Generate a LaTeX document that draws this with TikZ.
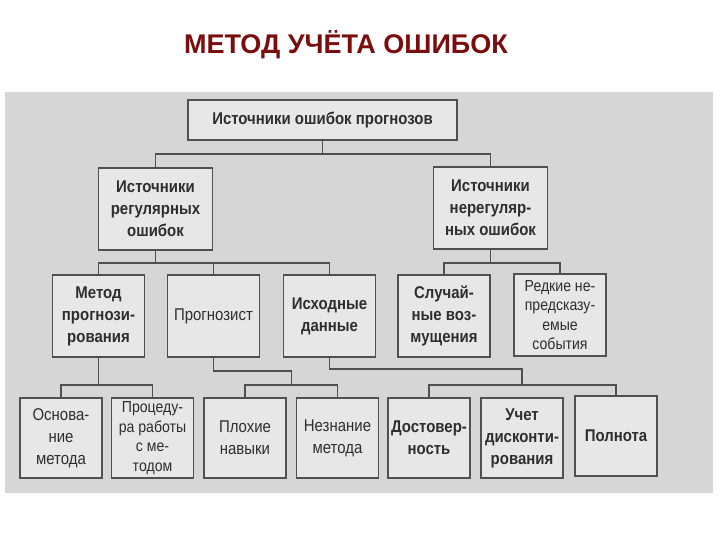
\documentclass[tikz,border=0pt]{standalone}
\usepackage{fontspec}
\usetikzlibrary{calc}
\newfontfamily\boxfont[FakeStretch=0.88]{Liberation Sans}
\newfontfamily\headfont{Liberation Sans}
\definecolor{headred}{HTML}{7A0E0E}
\definecolor{scan}{HTML}{D6D6D6}
\definecolor{boxfill}{HTML}{E7E7E7}
\definecolor{boxline}{HTML}{505050}
\definecolor{ink}{HTML}{2E2E2E}

\begin{document}
\begin{tikzpicture}[x=1pt, y=-1pt,
  box/.style={draw=boxline, line width=1.8pt, fill=boxfill, inner sep=1pt,
    align=center, text=ink, font=\boxfont\bfseries\fontsize{17}{22}\selectfont},
  thin box/.style={box, font=\boxfont\fontsize{17}{22}\selectfont},
  top/.style={box, minimum width=269pt, minimum height=40pt},
  src/.style={box, minimum width=114pt, minimum height=82pt},
  lvl/.style={box, minimum width=92pt, minimum height=82pt},
  leaf/.style={box, minimum width=82pt, minimum height=80pt},
  link/.style={draw=boxline, line width=1.3pt}]

\useasboundingbox (0,0) rectangle (720,540);

% Title and scanned page
\node[font=\headfont\bfseries\fontsize{27}{30}\selectfont, text=headred] (title) at (346,45) {МЕТОД УЧЁТА ОШИБОК};
\fill[scan] (5,92) rectangle (713,493);

% Bus levels for the connectors
\coordinate (busA) at (0,154);
\coordinate (busB) at (0,263);
\coordinate (busC) at (0,385);
\coordinate (busD) at (0,371);
\coordinate (busE) at (0,369);

% Top and second level
\node[top] (sources) at (322.5,120) {Источники ошибок прогнозов};
\node[src] (regular) at (155.5,209) {Источники\\регулярных\\ошибок};
\node[src] (irregular) at (490.5,208) {Источники\\нерегуляр-\\ных ошибок};

% Third level
\node[lvl] (method) at (98.5,316) {Метод\\прогнози-\\рования};
\node[lvl, thin box] (forecaster) at (213.5,316) {Прогнозист};
\node[lvl] (data) at (329.5,316) {Исходные\\данные};
\node[lvl] (random) at (444,316) {Случай-\\ные воз-\\мущения};
\node[lvl, font=\boxfont\fontsize{16}{19.5}\selectfont] (rare) at (560,315) {Редкие не-\\предсказу-\\емые\\события};

% Fourth level
\node[leaf, thin box] (basis) at (61,438) {Основа-\\ние\\метода};
\node[leaf, font=\boxfont\fontsize{16}{19.5}\selectfont] (procedure) at (152.5,438) {Процеду-\\ра работы\\с ме-\\тодом};
\node[leaf, thin box] (skills) at (245,438) {Плохие\\навыки};
\node[leaf, thin box] (ignorance) at (337.5,438) {Незнание\\метода};
\node[leaf] (reliability) at (429,438) {Достовер-\\ность};
\node[leaf] (discount) at (522,438) {Учет\\дисконти-\\рования};
\node[leaf] (complete) at (616,436) {Полнота};

% Connectors
\draw[link] (sources.south) -- (sources.south |- busA);
\draw[link] (regular.north) |- (irregular.north |- busA) -- (irregular.north);

\draw[link] (regular.south) -- (regular.south |- busB);
\draw[link] (method.north) |- (data.north |- busB) -- (data.north);
\draw[link] (forecaster.north) -- (forecaster.north |- busB);
\draw[link] (irregular.south) -- (irregular.south |- busB);
\draw[link] (random.north) |- (rare.north |- busB) -- (rare.north);

\draw[link] (method.south) -- (method.south |- busC);
\draw[link] (basis.north) |- (procedure.north |- busC) -- (procedure.north);

\coordinate (mid1) at ($(skills.north)!0.5!(ignorance.north)$);
\draw[link] (forecaster.south) |- (mid1 |- busD) -- (mid1 |- busC);
\draw[link] (skills.north) |- (ignorance.north |- busC) -- (ignorance.north);

\draw[link] (data.south) |- (discount.north |- busE) -- (discount.north |- busC);
\draw[link] (reliability.north) |- (complete.north |- busC) -- (complete.north);

\end{tikzpicture}
\end{document}
